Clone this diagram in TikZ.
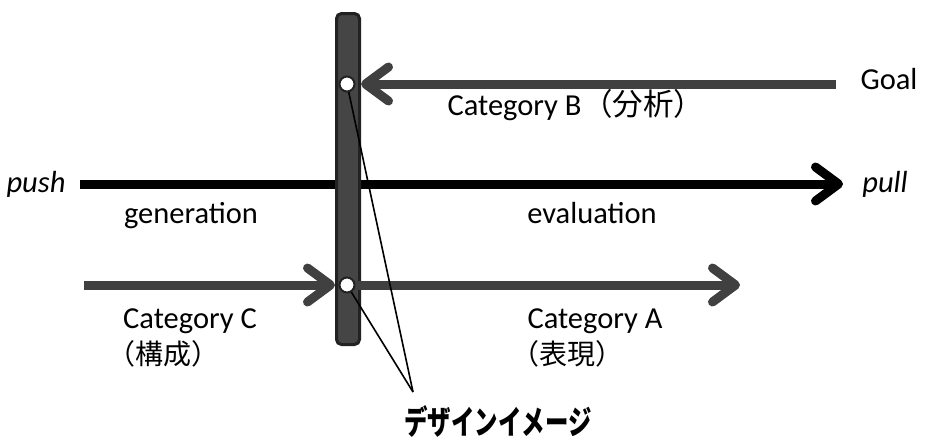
\documentclass[tikz,border=0pt]{standalone}
\usepackage{fontspec}
\setmainfont{Carlito}
\newfontfamily\jp{Noto Sans CJK JP}
\usetikzlibrary{arrows.meta}
\definecolor{arrowgray}{HTML}{404040}
\definecolor{barfill}{HTML}{454545}
\definecolor{barline}{HTML}{222222}
\begin{document}
\begin{tikzpicture}[x=1pt,y=-1pt,
  lbl/.style={font=\fontsize{30.5}{32}\selectfont, inner sep=0pt, anchor=base},
  jlbl/.style={font=\fontsize{28}{30}\selectfont\jp, inner sep=0pt, anchor=base},
  fat/.style={line width=9pt, -{Straight Barb[length=23pt,width=34pt,round]}},
  pointer/.style={line width=1.6pt, draw=black},
  dot/.style={circle, draw=barline, fill=white, line width=2pt, minimum size=15pt, inner sep=0pt}
]
\useasboundingbox (0,0) rectangle (925,445);
% coordinates
\coordinate (pushstart) at (80,184);
\coordinate (pullend) at (843,184);
\coordinate (goalstart) at (836,84);
\coordinate (cstart) at (84,285);
\coordinate (aend) at (740,285);
\coordinate (conv) at (413,392);
% main black arrow
\draw[fat, draw=black] (pushstart) -- (pullend);
% bar
\node[draw=barline, line width=3pt, fill=barfill, rounded corners=5pt,
      minimum width=23pt, minimum height=331pt, inner sep=0pt] (bar) at (348,179) {};
\coordinate (c1) at (347,84);
\coordinate (c2) at (347,285);
% gray arrows
\draw[fat, draw=arrowgray] (goalstart) -- (bar.east |- c1);
\draw[fat, draw=arrowgray] (cstart) -- (bar.west |- c2);
\draw[fat, draw=arrowgray] (c2) -- (aend);
% pointer lines
\draw[pointer] (c1) -- (conv);
\draw[pointer] (c2) -- (conv);
% circles
\node[dot] (d1) at (c1) {};
\node[dot] (d2) at (c2) {};
% labels
\node[lbl] (goal) at (889,89) {Goal};
\node[lbl] (catb) at (576,115) {Category B\hspace{1pt}{\jp（分析）}};
\node[lbl, font=\fontsize{30.5}{32}\selectfont\itshape] (push) at (36,192) {push};
\node[lbl, font=\fontsize{30.5}{32}\selectfont\itshape] (pull) at (885,192) {pull};
\node[lbl] (gen) at (191,223) {generation};
\node[lbl] (eval) at (592,223) {evaluation};
\node[lbl] (catc) at (190,328) {Category C};
\node[jlbl] (catcj) at (163,364) {（構成）};
\node[lbl] (cata) at (595,328) {Category A};
\node[jlbl] (cataj) at (567,364) {（表現）};
\node[inner sep=0pt, anchor=base, font=\fontsize{33}{35}\selectfont\jp\bfseries] (design) at (498,434) {\scalebox{0.71}[1]{デザインイメージ}};
\end{tikzpicture}
\end{document}
